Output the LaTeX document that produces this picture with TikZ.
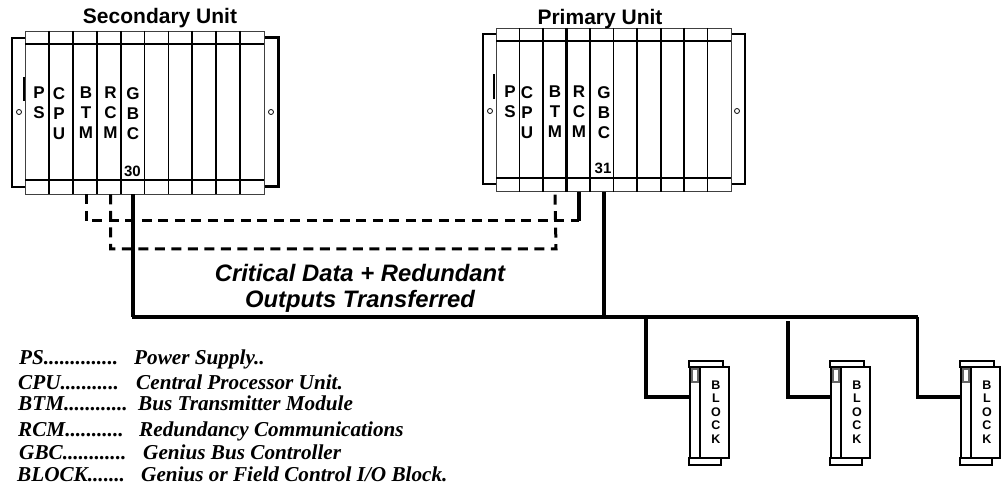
\documentclass[tikz,border=0pt]{standalone}
\usepackage{fontspec}
\setmainfont{Liberation Sans}
\newfontfamily\legendfont{Liberation Serif}
\usetikzlibrary{positioning}

\begin{document}
\begin{tikzpicture}[
	  x=1pt, y=-1pt,
	  rackbox/.style={rectangle, draw=black!75, line width=0.9pt, minimum width=239pt, minimum height=163pt, inner sep=0pt},
	  earline/.style={line width=1.5pt},
	  slotline/.style={line width=1.8pt},
	  slotlabel/.style={anchor=north, inner sep=0pt, align=center, font=\bfseries\fontsize{17}{20}\selectfont},
	  slotnum/.style={inner sep=0pt, font=\bfseries\fontsize{15}{16}\selectfont},
	  screw/.style={circle, draw=black, line width=0.8pt, minimum size=5pt, inner sep=0pt},
	  title/.style={inner sep=0pt, font=\bfseries\fontsize{21}{23}\selectfont},
	  busline/.style={line width=3.4pt},
	  linkline/.style={line width=3pt, dash pattern=on 10pt off 6.5pt},
	  blockbox/.style={rectangle, draw=black, line width=1.4pt, fill=white, inner sep=0pt},
	  blocktext/.style={align=center, font=\bfseries\fontsize{12.5}{13.5}\selectfont},
	  legendtext/.style={anchor=base west, inner sep=0pt, font=\legendfont\bfseries\itshape\fontsize{21.2}{23}\selectfont}
	]
	\useasboundingbox (0,0) rectangle (1002,489);

	% secondary rack
	\draw[earline] (25,38) -| (12,187) -- (25,187);
	\draw[line width=3pt] (264,38) -| (278,187) -- (264,187);
	\draw[line width=2.5pt] (24,77) -- (24,101);
	\node (secondary) [rackbox] at (144.5,112.5) {};
	\foreach \i in {1,...,9}
		\draw[slotline] (25+\i*23.9,31) -- (25+\i*23.9,194);
	\draw[line width=1.1pt] (25,44) -- (264,44) (25,180) -- (264,180);
	\node (secscrewl) [screw] at (19,112) {};
	\node (secscrewr) [screw] at (271,112) {};
	\node (sectitle) [title] at (160,18) {Secondary Unit};
	\node (secps) [slotlabel] at (39,87) {P\\S};
	\node (seccpu) [slotlabel] at (59,87) {C\\P\\U};
	\node (secbtm) [slotlabel] at (86,87) {B\\T\\M};
	\node (secrcm) [slotlabel] at (110.5,87) {R\\C\\M};
	\node (secgbc) [slotlabel] at (133,87) {G\\B\\C};
	\node (secnum) [slotnum] at (132.5,171) {30};

	% primary rack
	\draw[earline] (496,34) -| (483,184) -- (496,184);
	\draw[earline] (731,34) -| (745,184) -- (731,184);
	\draw[line width=2pt] (494,74) -- (494,99);
	\node (primary) [rackbox, minimum width=235pt] at (613.5,110) {};
	\foreach \i/\w in {1/1.2,2/1.2,3/2.4,4/1.2,5/1.4,6/1.4,7/2,8/1.4,9/1.8}
		\draw[line width=\w pt] (496+\i*23.5,28) -- (496+\i*23.5,192);
	\draw[line width=1.6pt] (496,41) -- (731,41) (496,178) -- (731,178);
	\node (priscrewl) [screw] at (490,111) {};
	\node (priscrewr) [screw] at (737,111) {};
	\node (prititle) [title] at (600,19) {Primary Unit};
	\node (prips) [slotlabel] at (510,86) {P\\S};
	\node (pricpu) [slotlabel] at (527,86) {C\\P\\U};
	\node (pribtm) [slotlabel] at (555,86) {B\\T\\M};
	\node (prircm) [slotlabel] at (579,86) {R\\C\\M};
	\node (prigbc) [slotlabel] at (604,86) {G\\B\\C};
	\node (prinum) [slotnum] at (603,168) {31};

	% links between the racks
	\coordinate (upperend) at (579,221);
	\coordinate (lowerend) at (556,249);
	\draw[linkline] (secbtm |- secondary.south) |- (upperend);
	\draw[linkline] (secrcm |- secondary.south) |- (lowerend) -- (pribtm |- primary.south);
	\draw[busline] (prircm |- primary.south) |- (upperend);

	% main bus
	\coordinate (buswest) at (132,317);
	\coordinate (bus1) at (646,317);
	\coordinate (bus2) at (788,321);
	\coordinate (bus3) at (917.5,317);
	\draw[busline] (secgbc |- secondary.south) |- (buswest) -- (bus3);
	\draw[busline] (prigbc |- primary.south) -- (prigbc |- buswest);

	% blocks
	\foreach \i/\dx in {1/0,2/141,3/271} {
		\node (topcap\i) [blockbox, minimum width=34pt, minimum height=6pt] at (706+\dx,364) {};
		\node (botcap\i) [blockbox, minimum width=32pt, minimum height=7pt] at (705+\dx,461.5) {};
		\node (side\i) [blockbox, minimum width=10pt, minimum height=91pt] at (695+\dx,412.5) {};
		\node (tab\i) [blockbox, draw=black!60, minimum width=6pt, minimum height=13pt] at (695+\dx,375.5) {};
		\node (block\i) [blockbox, minimum width=29pt, minimum height=91pt] at (714.5+\dx,412.5) {};
		\node (blocklabel\i) [blocktext] at (716+\dx,412) {B\\L\\O\\C\\K};
		\coordinate (port\i) at (690+\dx,397);
		\draw[busline] (bus\i) |- (port\i);
	}

	% center label
	\node (transfer) [align=center, inner sep=0pt, font=\bfseries\itshape\fontsize{23.8}{26}\selectfont] at (360,288) {Critical Data + Redundant\\Outputs Transferred};

	% legend
	\foreach \n/\xa/\xb/\y/\abbr/\full in {
		1/19/134/364/{PS..............}/{Power Supply..},
		2/18/136/389/{CPU...........}/{Central Processor Unit.},
		3/18/138/410/{BTM............}/{Bus Transmitter Module},
		4/18/139/436/{RCM...........}/{Redundancy Communications},
		5/19/143/459/{GBC............}/{Genius Bus Controller},
		6/17/141/481/{BLOCK.......}/{Genius or Field Control I/O Block.}} {
		\node (abbr\n) [legendtext] at (\xa,\y) {\abbr};
		\node (full\n) [legendtext] at (\xb,\y) {\full};
	}
\end{tikzpicture}
\end{document}
